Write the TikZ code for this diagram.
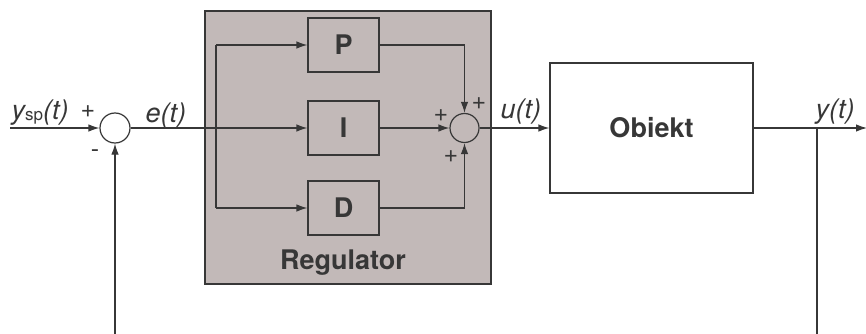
\documentclass[tikz,border=0pt]{standalone}
\usepackage{fontspec}
\setmainfont{TeX Gyre Heros}
\usetikzlibrary{arrows.meta}
\definecolor{ink}{RGB}{55,55,55}
\definecolor{regfill}{RGB}{194,185,184}
\begin{document}
\begin{tikzpicture}[x=1pt,y=-1pt,
  line width=1.2pt, draw=ink, text=ink,
  arr/.style={-{Latex[length=11pt,width=7.5pt]}},
  blk/.style={draw=ink, line width=1.2pt, minimum width=71pt, minimum height=54pt, inner sep=0pt, font=\fontsize{27}{30}\selectfont\bfseries},
  sumc/.style={draw=ink, circle, line width=1.2pt, minimum size=29pt, inner sep=0pt, fill=white},
  lbl/.style={font=\fontsize{27}{30}\selectfont\itshape, anchor=base west, inner sep=0pt},
  sgn/.style={font=\fontsize{25}{26}\selectfont, inner sep=0pt}]
\useasboundingbox (0,0) rectangle (866,334);
\fill[white] (0,0) rectangle (866,334);
% regulator box
\node[draw=ink, fill=regfill, line width=1.2pt, minimum width=286pt, minimum height=273pt, inner sep=0pt] (reg) at (348,147.5) {};
\node[font=\fontsize{27}{30}\selectfont\bfseries, inner sep=0pt] (regl) at (343,263) {Regulator};
% blocks
\node[blk] (P) at (343.5,45) {P};
\node[blk] (I) at (343.5,128) {I};
\node[blk] (D) at (343.5,208) {D};
\node[sumc, minimum size=30pt] (s1) at (115,128) {};
\node[sumc, fill=none] (s2) at (464.5,128) {};
\node[draw=ink, line width=1.2pt, minimum width=203pt, minimum height=130pt, inner sep=0pt, font=\fontsize{27}{30}\selectfont\bfseries] (obj) at (651.5,128) {Obiekt};
% coordinates
\coordinate (in) at (10,128);
\coordinate (br) at (216,128);
\coordinate (brP) at (216,45);
\coordinate (brD) at (216,208);
\coordinate (fb) at (817,128);
\coordinate (fbb) at (817,334);
\coordinate (s1b) at (115,334);
\coordinate (out) at (867,128);
% connectors
\draw[arr] (in) -- (s1);
\draw[arr] (s1) -- (I);
\draw[arr] (brP) -- (P);
\draw[arr] (brD) -- (D);
\draw (brP) -- (brD);
\draw[arr] (P.east) -| (s2.north);
\draw[arr] (D.east) -| (s2.south);
\draw[arr] (I) -- (s2);
\draw[arr] (s2) -- (obj);
\draw[arr] (obj) -- (out);
\draw (fb) -- (fbb);
\draw[arr] (s1b) -- (s1);
% labels
\node[lbl] (ysp) at (11,120) {y\raisebox{-1pt}{\upshape\fontsize{17}{20}\selectfont sp}(t)};
\node[lbl] (et) at (145,122) {e(t)};
\node[lbl] (ut) at (500,118) {u(t)};
\node[lbl] (yt) at (815,118) {y(t)};
\node[sgn] (p1) at (88,112) {+};
\node[sgn] (m1) at (95,154) {-};
\node[sgn] (p2) at (479,104) {+};
\node[sgn] (p3) at (441,116) {+};
\node[sgn] (p4) at (451,157) {+};
\end{tikzpicture}
\end{document}
